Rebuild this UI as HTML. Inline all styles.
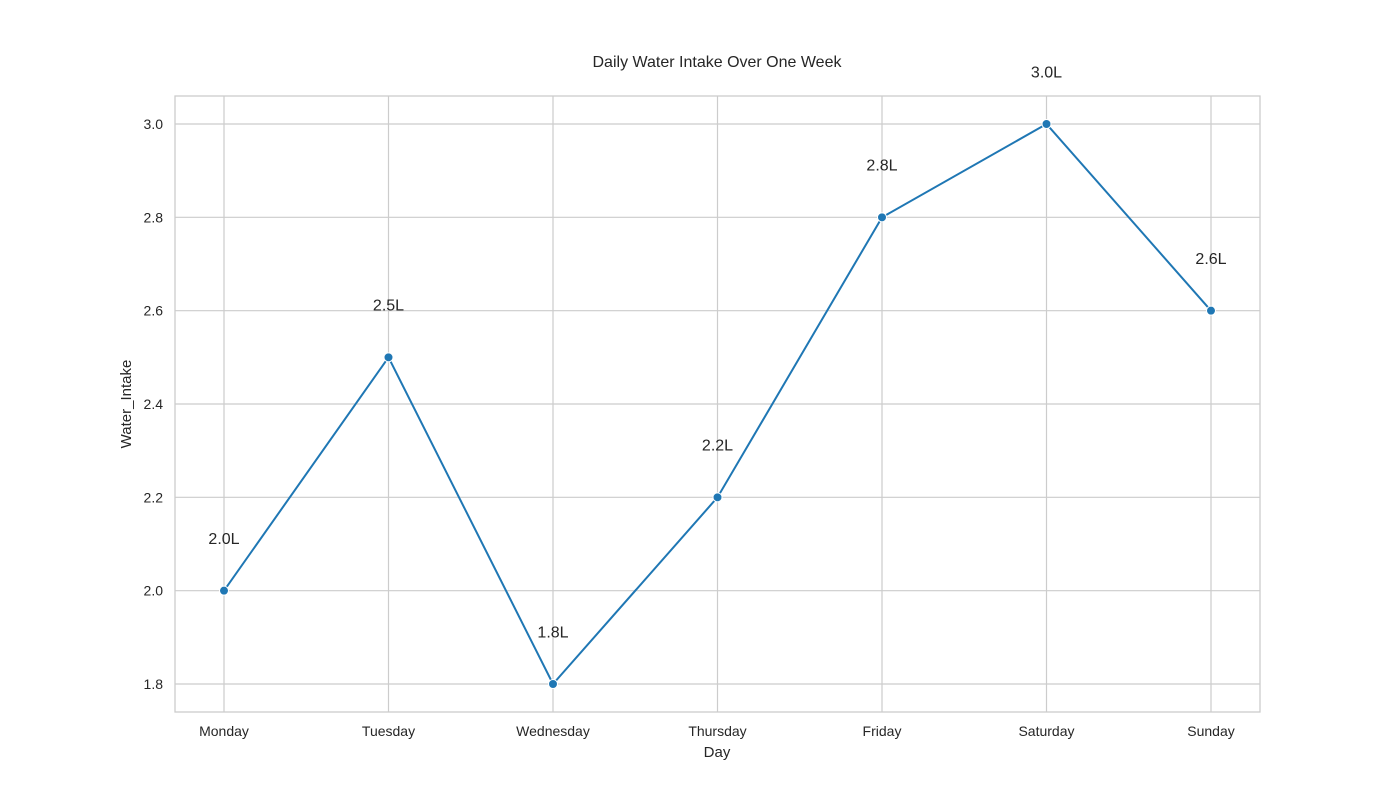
<!DOCTYPE html>
<html><head><meta charset="utf-8"><style>
body{margin:0;background:#fff;font-family:"Liberation Sans",sans-serif;}
text{font-family:"Liberation Sans",sans-serif;fill:#262626;}
</style></head><body>
<svg id="chart" width="1400" height="800" xmlns="http://www.w3.org/2000/svg">
<text x="717" y="67" font-size="16" text-anchor="middle">Daily Water Intake Over One Week</text>
<g id="grid"></g>
<rect x="175" y="96" width="1085" height="616" fill="none" stroke="#cccccc" stroke-width="1.3"/>
<g id="marks"></g>
<text x="717" y="757" font-size="15" text-anchor="middle">Day</text>
<text transform="translate(131,404) rotate(-90)" font-size="15" text-anchor="middle">Water_Intake</text>
</svg>
<script>
const days=["Monday","Tuesday","Wednesday","Thursday","Friday","Saturday","Sunday"];
const intake=[2.0,2.5,1.8,2.2,2.8,3.0,2.6];
const labels=["2.0L","2.5L","1.8L","2.2L","2.8L","3.0L","2.6L"];
const yTicks=[1.8,2.0,2.2,2.4,2.6,2.8,3.0];
const NS="http://www.w3.org/2000/svg";
const xs=i=>224+i*(1211-224)/6;
const ys=v=>684-(v-1.8)*(560/1.2);
function mk(t,a,p){const e=document.createElementNS(NS,t);for(const k in a)e.setAttribute(k,a[k]);p.appendChild(e);return e;}
const g=document.getElementById('grid'),m=document.getElementById('marks');
yTicks.forEach(v=>{
 const l=mk('line',{x1:175,x2:1260,y1:ys(v),y2:ys(v),stroke:'#cccccc','stroke-width':1.2},g);
 
 
 const t=mk('text',{x:163,y:ys(v)+5,'font-size':14,'text-anchor':'end'},g);t.textContent=v.toFixed(1);
 
 
});
days.forEach((d,i)=>{
 const l=mk('line',{x1:xs(i),x2:xs(i),y1:96,y2:712,stroke:'#cccccc','stroke-width':1.2},g);
 
 
 const t=mk('text',{x:xs(i),y:736,'font-size':14,'text-anchor':'middle'},g);t.textContent=d;
 
 
});
const p=mk('polyline',{points:intake.map((v,i)=>xs(i)+','+ys(v)).join(' '),fill:'none',stroke:'#1f77b4','stroke-width':2},m);


intake.forEach((v,i)=>{
 const c=mk('circle',{cx:xs(i),cy:ys(v),r:4.5,fill:'#1f77b4',stroke:'#fff','stroke-width':1},m);
 
 
 const t=mk('text',{x:xs(i),y:ys(v+0.1),'font-size':16,'text-anchor':'middle'},m);t.textContent=labels[i];
 
 
});
</script>
</body></html>
